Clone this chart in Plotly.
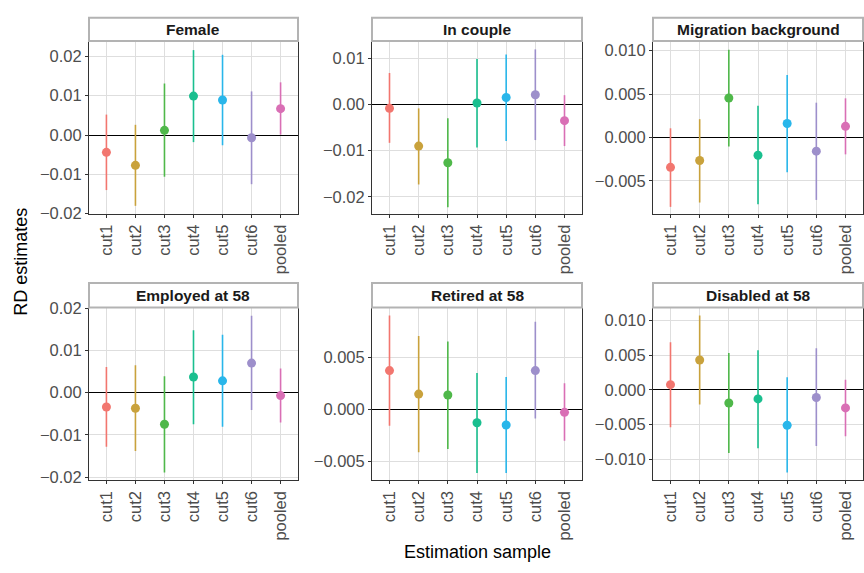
import plotly.graph_objects as go

categories = ["cut1", "cut2", "cut3", "cut4", "cut5", "cut6", "pooled"]
colors = ["#F2766F", "#C9A23C", "#4FB84A", "#1ABF8F", "#29B6EA", "#9D8FCB", "#D96FB5"]

panel_titles = ["Female", "In couple", "Migration background",
                "Employed at 58", "Retired at 58", "Disabled at 58"]

female_est = [-0.0044, -0.0077, 0.0012, 0.0099, 0.0089, -0.0007, 0.0067]
female_lo = [-0.0140, -0.0180, -0.0106, -0.0018, -0.0026, -0.0125, 0.0001]
female_hi = [0.0052, 0.0026, 0.0131, 0.0216, 0.0204, 0.0111, 0.0134]

couple_est = [-0.00085, -0.0090, -0.0126, 0.0003, 0.0015, 0.0021, -0.0035]
couple_lo = [-0.0083, -0.0173, -0.0222, -0.0093, -0.0079, -0.0077, -0.0090]
couple_hi = [0.0068, -0.00085, -0.0030, 0.0098, 0.0108, 0.0119, 0.0020]

migr_est = [-0.00345, -0.00266, 0.00454, -0.00206, 0.0016, -0.00158, 0.00128]
migr_lo = [-0.0080, -0.0075, -0.00105, -0.0077, -0.0040, -0.0072, -0.00195]
migr_hi = [0.00105, 0.0021, 0.0101, 0.00364, 0.0072, 0.0040, 0.0045]

empl_est = [-0.0034, -0.0037, -0.0075, 0.0037, 0.0028, 0.0070, -0.0007]
empl_lo = [-0.0128, -0.0138, -0.0189, -0.0075, -0.0081, -0.0041, -0.0071]
empl_hi = [0.0061, 0.0065, 0.0039, 0.0148, 0.0137, 0.0182, 0.0057]

ret_est = [0.00372, 0.00147, 0.00138, -0.00128, -0.0015, 0.00372, -0.00028]
ret_lo = [-0.00156, -0.0041, -0.0038, -0.0061, -0.0061, -0.00088, -0.0030]
ret_hi = [0.0090, 0.00703, 0.0065, 0.0035, 0.0031, 0.0084, 0.0025]

dis_est = [0.00075, 0.0043, -0.0019, -0.0013, -0.0051, -0.0011, -0.0026]
dis_lo = [-0.0054, -0.0021, -0.0091, -0.0084, -0.0119, -0.0081, -0.0067]
dis_hi = [0.00685, 0.0107, 0.0053, 0.0057, 0.0018, 0.0060, 0.00146]

panels = [
    (female_est, female_lo, female_hi),
    (couple_est, couple_lo, couple_hi),
    (migr_est, migr_lo, migr_hi),
    (empl_est, empl_lo, empl_hi),
    (ret_est, ret_lo, ret_hi),
    (dis_est, dis_lo, dis_hi),
]

# layout settings (pixel based)
W, H = 864, 573
col_px = [(89, 298), (372, 582), (653, 863)]
row_px = [(34, 212), (308, 486)]
strip_px = [(10, 34), (283, 308)]
y_ranges = [[-0.0201, 0.0239], [-0.0237, 0.0137], [-0.00883, 0.0111],
            [-0.0208, 0.0202], [-0.00681, 0.00978], [-0.01305, 0.01188]]
y_dticks = [0.01, 0.01, 0.005, 0.01, 0.005, 0.005]
y_formats = [".2f", ".2f", ".3f", ".2f", ".3f", ".3f"]

fig = go.Figure()
shapes = []
annotations = []
font_family = "Liberation Sans, Arial, sans-serif"

for p, (est, lo, hi) in enumerate(panels):
    r, c = divmod(p, 3)
    ax = "" if p == 0 else str(p + 1)
    xref, yref = "x" + ax, "y" + ax
    for i, cat in enumerate(categories):
        fig.add_trace(go.Scatter(
            x=[cat], y=[est[i]], mode="markers",
            marker=dict(color=colors[i], size=9, line=dict(width=0)),
            error_y=dict(type="data", symmetric=False,
                         array=[hi[i] - est[i]], arrayminus=[est[i] - lo[i]],
                         width=0, thickness=1.6, color=colors[i]),
            showlegend=False, xaxis=xref, yaxis=yref, hoverinfo="x+y"))
    x0, x1 = col_px[c]
    y0, y1 = row_px[r]
    xd = [x0 / W, x1 / W]
    yd = [1 - y1 / H, 1 - y0 / H]
    axis_common = dict(showline=True, linecolor="#333333", linewidth=1, mirror=True,
                       ticks="outside", ticklen=3, tickcolor="#333333",
                       showgrid=True, gridcolor="#dedede", gridwidth=1,
                       tickfont=dict(family=font_family, size=16.5, color="#4d4d4d"))
    fig.update_layout({
        "xaxis" + ax: dict(domain=xd, anchor=yref, type="category",
                           categoryorder="array", categoryarray=categories,
                           range=[-0.6, 6.6], tickangle=-90, zeroline=False,
                           **axis_common),
        "yaxis" + ax: dict(domain=yd, anchor=xref, range=y_ranges[p],
                           dtick=y_dticks[p], tick0=0, tickformat=y_formats[p],
                           zeroline=True, zerolinecolor="black", zerolinewidth=1.2,
                           **axis_common),
    })
    s0, s1 = strip_px[r]
    shapes.append(dict(type="rect", xref="paper", yref="paper",
                       x0=xd[0], x1=xd[1], y0=1 - s1 / H, y1=1 - s0 / H,
                       fillcolor="white", line=dict(color="#b3b3b3", width=2), layer="above"))
    annotations.append(dict(text="<b>" + panel_titles[p] + "</b>", xref="paper", yref="paper",
                            x=(xd[0] + xd[1]) / 2, y=1 - (s0 + s1) / 2 / H,
                            xanchor="center", yanchor="middle", showarrow=False,
                            font=dict(family=font_family, size=15.5, color="#1a1a1a")))

annotations.append(dict(text="Estimation sample", xref="paper", yref="paper",
                        x=477 / W, y=1 - 560 / H, xanchor="center", yanchor="middle",
                        showarrow=False, font=dict(family=font_family, size=18, color="black")))
annotations.append(dict(text="RD estimates", xref="paper", yref="paper",
                        x=21 / W, y=1 - 261 / H, xanchor="center", yanchor="middle",
                        textangle=-90, showarrow=False,
                        font=dict(family=font_family, size=18, color="black")))

fig.update_layout(width=W, height=H, margin=dict(l=0, r=0, t=0, b=0),
                  paper_bgcolor="white", plot_bgcolor="white",
                  shapes=shapes, annotations=annotations,
                  font=dict(family=font_family))

fig.write_html("out.html")
